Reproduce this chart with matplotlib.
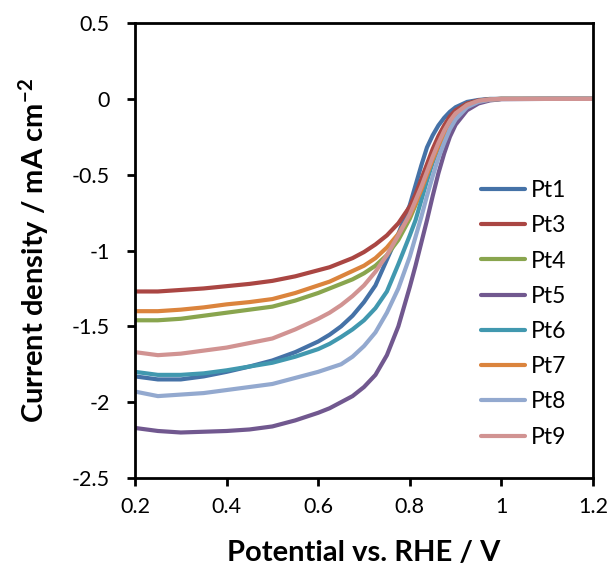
import numpy as np
import matplotlib.pyplot as plt

plt.rcParams['font.family'] = ['Lato', 'DejaVu Sans']
plt.rcParams['mathtext.default'] = 'regular'

pot = [0.2, 0.25, 0.3, 0.35, 0.4, 0.45, 0.5, 0.55, 0.6, 0.625, 0.65, 0.675, 0.7, 0.725, 0.75, 0.775,
       0.8, 0.8125, 0.825, 0.8375, 0.85, 0.8625, 0.875, 0.8875, 0.9, 0.925, 0.95, 0.975, 1.0, 1.1, 1.2]

pt1 = [-1.83, -1.85, -1.85, -1.83, -1.80, -1.765, -1.725, -1.67, -1.60, -1.555, -1.50, -1.43, -1.34, -1.23, -1.06, -0.89,
       -0.70, -0.57, -0.44, -0.32, -0.24, -0.175, -0.125, -0.085, -0.055, -0.02, -0.007, 0.0, 0.0, 0.0, 0.0]
pt3 = [-1.27, -1.27, -1.26, -1.25, -1.235, -1.22, -1.20, -1.17, -1.13, -1.11, -1.08, -1.05, -1.01, -0.96, -0.90, -0.82,
       -0.71, -0.63, -0.53, -0.43, -0.33, -0.245, -0.175, -0.115, -0.075, -0.03, -0.01, -0.002, 0.0, 0.0, 0.0]
pt4 = [-1.46, -1.46, -1.45, -1.43, -1.41, -1.39, -1.37, -1.33, -1.28, -1.25, -1.22, -1.19, -1.15, -1.10, -1.03, -0.93,
       -0.79, -0.70, -0.60, -0.50, -0.40, -0.305, -0.22, -0.15, -0.10, -0.04, -0.015, -0.003, 0.0, 0.0, 0.0]
pt5 = [-2.17, -2.19, -2.20, -2.195, -2.19, -2.18, -2.16, -2.12, -2.07, -2.04, -2.00, -1.96, -1.90, -1.82, -1.69, -1.50,
       -1.24, -1.10, -0.95, -0.80, -0.64, -0.49, -0.36, -0.25, -0.17, -0.075, -0.03, -0.01, -0.002, 0.0, 0.0]
pt6 = [-1.80, -1.82, -1.82, -1.81, -1.79, -1.765, -1.74, -1.70, -1.65, -1.615, -1.57, -1.52, -1.46, -1.38, -1.27, -1.09,
       -0.90, -0.80, -0.67, -0.54, -0.42, -0.32, -0.23, -0.16, -0.11, -0.045, -0.015, -0.003, 0.0, 0.0, 0.0]
pt7 = [-1.40, -1.40, -1.39, -1.375, -1.355, -1.34, -1.32, -1.28, -1.23, -1.205, -1.17, -1.135, -1.10, -1.05, -0.98, -0.89,
       -0.77, -0.69, -0.60, -0.50, -0.40, -0.31, -0.225, -0.155, -0.105, -0.045, -0.017, -0.005, 0.0, 0.0, 0.0]
pt8 = [-1.93, -1.96, -1.95, -1.94, -1.92, -1.90, -1.88, -1.84, -1.80, -1.775, -1.75, -1.70, -1.63, -1.54, -1.41, -1.25,
       -1.04, -0.91, -0.78, -0.64, -0.51, -0.39, -0.29, -0.20, -0.135, -0.055, -0.02, -0.005, 0.0, 0.0, 0.0]
pt9 = [-1.67, -1.69, -1.68, -1.66, -1.64, -1.61, -1.58, -1.52, -1.45, -1.41, -1.36, -1.30, -1.23, -1.14, -1.03, -0.90,
       -0.76, -0.67, -0.58, -0.48, -0.38, -0.29, -0.21, -0.145, -0.095, -0.04, -0.012, -0.003, 0.0, 0.0, 0.0]

series = [pt1, pt3, pt4, pt5, pt6, pt7, pt8, pt9]
names = ['Pt1', 'Pt3', 'Pt4', 'Pt5', 'Pt6', 'Pt7', 'Pt8', 'Pt9']
colors = ['#4572A7', '#AA4643', '#89A54E', '#71588F', '#4198AF', '#DB843D', '#93A9CF', '#D19392']

xticks = [0.2, 0.4, 0.6, 0.8, 1.0, 1.2]
xtick_labels = ['0.2', '0.4', '0.6', '0.8', '1', '1.2']
yticks = [0.5, 0, -0.5, -1, -1.5, -2, -2.5]
ytick_labels = ['0.5', '0', '-0.5', '-1', '-1.5', '-2', '-2.5']

fig = plt.figure(figsize=(6.13, 5.77), dpi=100)
ax = fig.add_axes([0.2202, 0.1716, 0.7472, 0.7884])

for y, lab, c in zip(series, names, colors):
    ax.plot(pot, y, color=c, lw=3.0, label=lab, solid_capstyle='round', solid_joinstyle='round')

ax.set_xlim(0.2, 1.2)
ax.set_ylim(-2.5, 0.5)
ax.set_xticks(xticks)
ax.set_xticklabels(xtick_labels)
ax.set_yticks(yticks)
ax.set_yticklabels(ytick_labels)
ax.tick_params(direction='out', length=6, width=2, labelsize=15.5)
ax.tick_params(axis='x', pad=8)
ax.tick_params(axis='y', pad=12)
for s in ax.spines.values():
    s.set_linewidth(2)

ax.set_xlabel('Potential vs. RHE / V', fontsize=21, fontweight='bold', labelpad=16)
ax.set_ylabel('Current density / mA cm$^{-2}$', fontsize=21, fontweight='bold', labelpad=15)

ax.legend(loc='upper left', bbox_to_anchor=(0.735, 0.675), frameon=False, fontsize=16.5,
          handlelength=1.95, handletextpad=0.25, labelspacing=0.62, borderaxespad=0)

fig.savefig('out.png', dpi=100)
